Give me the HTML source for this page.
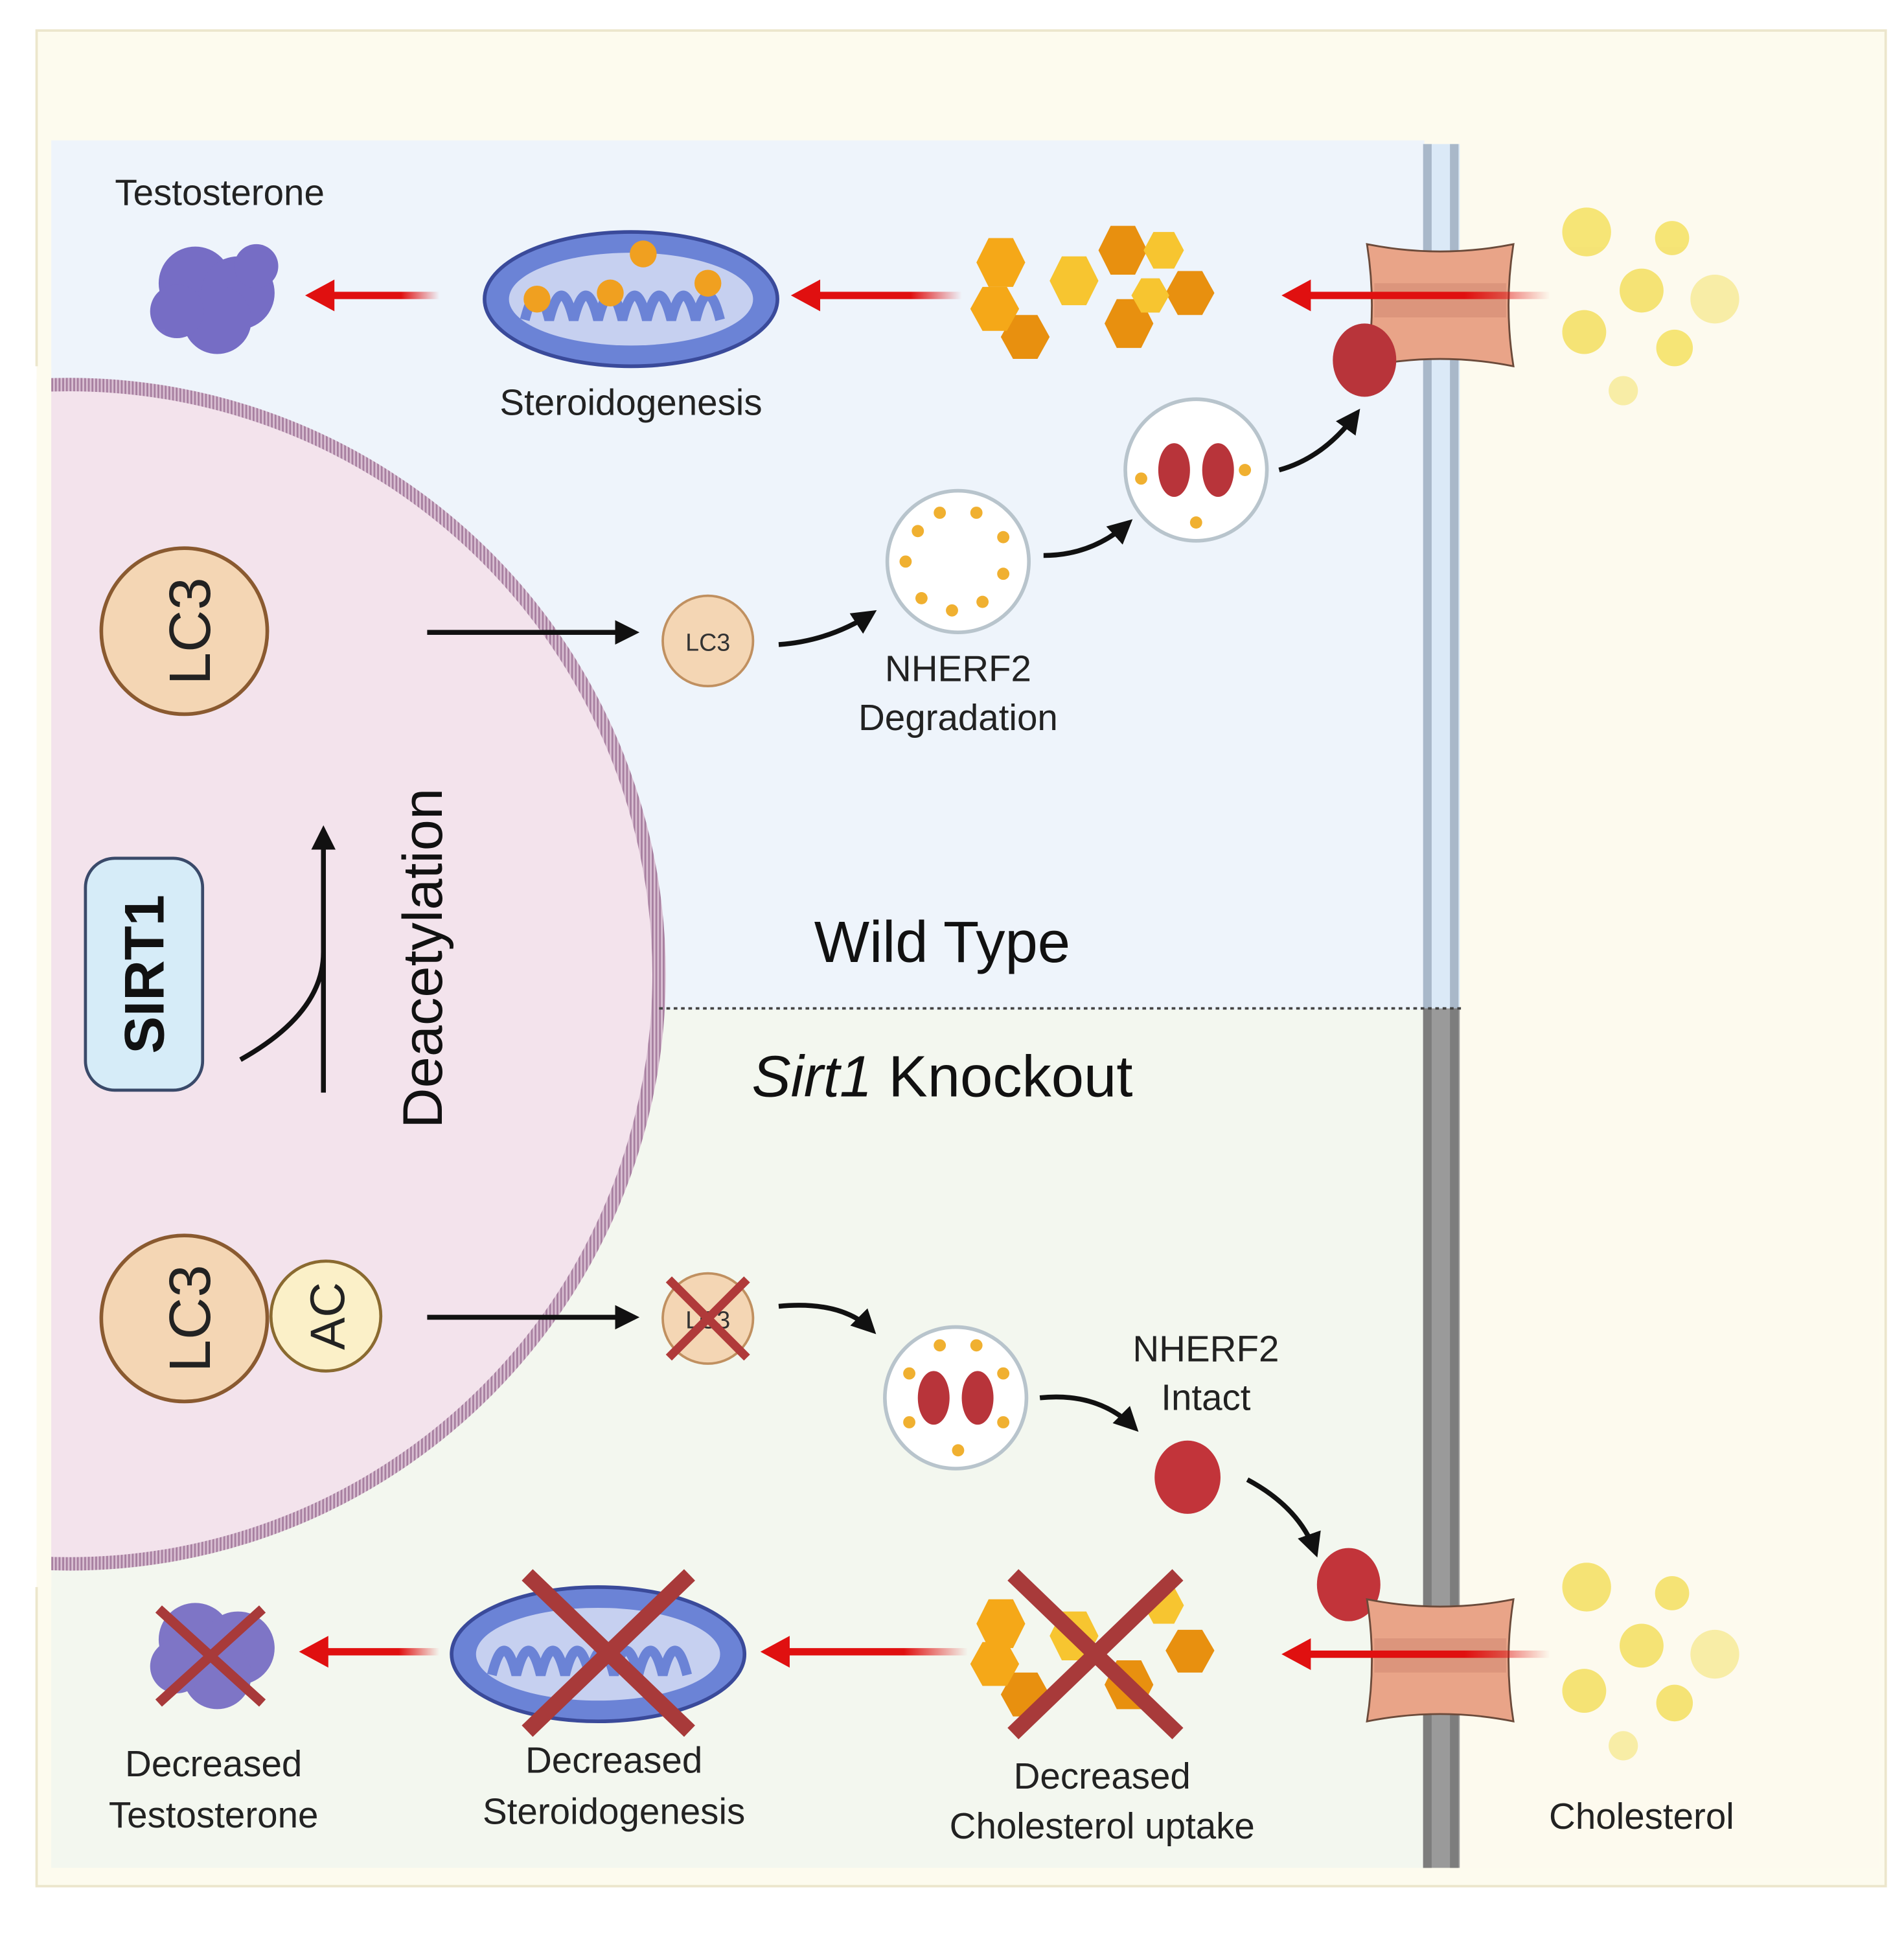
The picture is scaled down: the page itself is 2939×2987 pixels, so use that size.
<!DOCTYPE html>
<html><head><meta charset="utf-8"><style>html,body{margin:0;padding:0;background:#fff}svg{display:block}</style></head><body>
<svg width="2939" height="2987" viewBox="0 0 1560 1585" preserveAspectRatio="none" xmlns="http://www.w3.org/2000/svg" font-family="Liberation Sans, sans-serif">
<defs>
<marker id="ab" viewBox="0 0 10 10" refX="8" refY="5" markerWidth="5" markerHeight="5" orient="auto"><path d="M0,0L10,5L0,10z" fill="#111"/></marker>
<linearGradient id="rg" x1="0" x2="1" y1="0" y2="0"><stop offset="0" stop-color="#e01010"/><stop offset="0.65" stop-color="#e01010"/><stop offset="1" stop-color="#e01010" stop-opacity="0"/></linearGradient>
<pattern id="hatch" width="3" height="3" patternUnits="userSpaceOnUse"><rect width="3" height="3" fill="#d9bfd2"/><rect width="1.5" height="3" fill="#a77fa0"/></pattern>
</defs>
<rect width="1560" height="1585" fill="#fff"/>
<rect x="30" y="25" width="1515" height="1520" fill="#fdfbee" stroke="#ece6cc" stroke-width="2"/>
<rect x="42" y="115" width="1125" height="712" fill="#eef4fb"/>
<rect x="42" y="827" width="1125" height="703" fill="#f3f7ef"/>
<rect x="1195" y="115" width="345" height="1415" fill="#fdfaee"/>
<!-- nucleus -->
<circle cx="57" cy="798" r="483" fill="#f3e3ec" stroke="url(#hatch)" stroke-width="11"/>
<rect x="0" y="300" width="30" height="1000" fill="#fff"/>
<rect x="30" y="300" width="12" height="1000" fill="#fdfbee"/>
<!-- membrane -->
<rect x="1166" y="118" width="30" height="708" fill="#dbe9f7"/>
<rect x="1166" y="118" width="7" height="708" fill="#a9b8c9"/>
<rect x="1188" y="118" width="7" height="708" fill="#a9b8c9"/>
<rect x="1166" y="826" width="30" height="704" fill="#9a9a9a"/>
<rect x="1166" y="826" width="7" height="704" fill="#7d7d7d"/>
<rect x="1188" y="826" width="7" height="704" fill="#7d7d7d"/>
<line x1="540" y1="826" x2="1200" y2="826" stroke="#444" stroke-width="2" stroke-dasharray="3,3"/>
<!-- top row -->
<text x="180" y="168" font-size="30" text-anchor="middle" fill="#222">Testosterone</text>
<g fill="#6a5fc0" opacity="0.9"><circle cx="160" cy="232" r="30"/><circle cx="195" cy="240" r="30"/><circle cx="178" cy="262" r="28"/><circle cx="145" cy="255" r="22"/><circle cx="210" cy="218" r="18"/></g>
<rect x="270" y="239" width="90" height="6" fill="url(#rg)"/><polygon points="250,242 274,229 274,255" fill="#e01010"/>
<ellipse cx="517" cy="245" rx="120" ry="55" fill="#6b83d6" stroke="#3a4a9a" stroke-width="3"/>
<ellipse cx="517" cy="245" rx="100" ry="38" fill="#c6d0f0"/>
<path d="M430,262 q10,-40 20,0 q10,-40 20,0 q10,-40 20,0 q10,-40 20,0 q10,-40 20,0 q10,-40 20,0 q10,-40 20,0 q10,-40 20,0" fill="none" stroke="#6b83d6" stroke-width="8"/>
<g fill="#f0a020"><circle cx="440" cy="245" r="11"/><circle cx="500" cy="240" r="11"/><circle cx="527" cy="208" r="11"/><circle cx="580" cy="232" r="11"/></g>
<text x="517" y="340" font-size="30" text-anchor="middle" fill="#222">Steroidogenesis</text>
<rect x="668" y="239" width="120" height="6" fill="url(#rg)"/><polygon points="648,242 672,229 672,255" fill="#e01010"/>
<g fill="#f5a818"><polygon points="810,195 830,195 840,215 830,235 810,235 800,215"/><polygon points="870,210 890,210 900,230 890,250 870,250 860,230" fill="#f7c530"/><polygon points="910,185 930,185 940,205 930,225 910,225 900,205" fill="#e8900f"/><polygon points="945,190 962,190 970,205 962,220 945,220 937,205" fill="#f7c530"/><polygon points="965,222 985,222 995,240 985,258 965,258 955,240" fill="#e8900f"/><polygon points="915,245 935,245 945,265 935,285 915,285 905,265" fill="#e8900f"/><polygon points="830,258 850,258 860,276 850,294 830,294 820,276" fill="#e8900f"/><polygon points="805,235 825,235 835,253 825,271 805,271 795,253" fill="#f5a818"/><polygon points="935,228 950,228 958,242 950,256 935,256 927,242" fill="#f7c530"/></g>
<!-- transporter top -->
<path d="M1120,200 q60,12 120,0 q-8,50 0,100 q-60,-12 -120,0 q8,-50 0,-100z" fill="#e9a488" stroke="#6b4a3a" stroke-width="1.5"/>
<rect x="1126" y="232" width="108" height="28" fill="#d58f78" opacity="0.7"/>
<rect x="1070" y="239" width="200" height="6" fill="url(#rg)"/><polygon points="1050,242 1074,229 1074,255" fill="#e01010"/>
<ellipse cx="1118" cy="295" rx="26" ry="30" fill="#b8343a"/>
<g fill="#f4e060" opacity="0.85"><circle cx="1300" cy="190" r="20"/><circle cx="1370" cy="195" r="14"/><circle cx="1345" cy="238" r="18"/><circle cx="1405" cy="245" r="20" opacity="0.6"/><circle cx="1298" cy="272" r="18"/><circle cx="1372" cy="285" r="15"/><circle cx="1330" cy="320" r="12" opacity="0.6"/></g>
<!-- LC3 top -->
<circle cx="151" cy="517" r="68" fill="#f4d6b4" stroke="#8a5a30" stroke-width="3"/>
<text transform="translate(172,517) rotate(-90)" font-size="48" text-anchor="middle" fill="#222">LC3</text>
<line x1="350" y1="518" x2="520" y2="518" stroke="#111" stroke-width="4" marker-end="url(#ab)"/>
<circle cx="580" cy="525" r="37" fill="#f4d6b4" stroke="#c09060" stroke-width="2"/>
<text x="580" y="533" font-size="20" text-anchor="middle" fill="#333">LC3</text>
<path d="M638,528 Q680,525 715,502" fill="none" stroke="#111" stroke-width="4" marker-end="url(#ab)"/>
<circle cx="785" cy="460" r="58" fill="#fff" stroke="#b8c4cc" stroke-width="3"/>
<g fill="#f0b030"><circle cx="770" cy="420" r="5"/><circle cx="800" cy="420" r="5"/><circle cx="822" cy="440" r="5"/><circle cx="822" cy="470" r="5"/><circle cx="805" cy="493" r="5"/><circle cx="780" cy="500" r="5"/><circle cx="755" cy="490" r="5"/><circle cx="742" cy="460" r="5"/><circle cx="752" cy="435" r="5"/></g>
<text x="785" y="558" font-size="30" text-anchor="middle" fill="#222">NHERF2</text>
<text x="785" y="598" font-size="30" text-anchor="middle" fill="#222">Degradation</text>
<path d="M855,455 Q895,455 925,428" fill="none" stroke="#111" stroke-width="4" marker-end="url(#ab)"/>
<circle cx="980" cy="385" r="58" fill="#fff" stroke="#b8c4cc" stroke-width="3"/>
<ellipse cx="962" cy="385" rx="13" ry="22" fill="#b8343a"/><ellipse cx="998" cy="385" rx="13" ry="22" fill="#b8343a"/>
<g fill="#f0b030"><circle cx="980" cy="428" r="5"/><circle cx="1020" cy="385" r="5"/><circle cx="935" cy="392" r="5"/></g>
<path d="M1048,385 Q1085,375 1112,338" fill="none" stroke="#111" stroke-width="4" marker-end="url(#ab)"/>
<!-- SIRT1 -->
<rect x="70" y="703" width="96" height="190" rx="24" fill="#d6ecf8" stroke="#3a4a6a" stroke-width="2.5"/>
<text transform="translate(134,798) rotate(-90)" font-size="46" font-weight="bold" text-anchor="middle" fill="#111">SIRT1</text>
<path d="M197,868 Q265,830 265,780" fill="none" stroke="#111" stroke-width="4"/>
<line x1="265" y1="895" x2="265" y2="680" stroke="#111" stroke-width="4" marker-end="url(#ab)"/>
<text transform="translate(362,785) rotate(-90)" font-size="46" text-anchor="middle" fill="#111">Deacetylation</text>
<text x="772" y="788" font-size="48" text-anchor="middle" fill="#111">Wild Type</text>
<text x="772" y="898" font-size="48" text-anchor="middle" fill="#111"><tspan font-style="italic">Sirt1</tspan> Knockout</text>
<!-- bottom LC3 AC -->
<circle cx="151" cy="1080" r="68" fill="#f4d6b4" stroke="#8a5a30" stroke-width="3"/>
<text transform="translate(172,1080) rotate(-90)" font-size="48" text-anchor="middle" fill="#222">LC3</text>
<circle cx="267" cy="1078" r="45" fill="#fbf0c8" stroke="#8a6a30" stroke-width="2.5"/>
<text transform="translate(282,1078) rotate(-90)" font-size="40" text-anchor="middle" fill="#222">AC</text>
<line x1="350" y1="1079" x2="520" y2="1079" stroke="#111" stroke-width="4" marker-end="url(#ab)"/>
<circle cx="580" cy="1080" r="37" fill="#f4d6b4" stroke="#c09060" stroke-width="2"/>
<text x="580" y="1088" font-size="20" text-anchor="middle" fill="#333">LC3</text>
<path d="M548,1048 L612,1112 M612,1048 L548,1112" stroke="#b03a3a" stroke-width="7"/>
<path d="M638,1070 Q690,1065 715,1090" fill="none" stroke="#111" stroke-width="4" marker-end="url(#ab)"/>
<circle cx="783" cy="1145" r="58" fill="#fff" stroke="#b8c4cc" stroke-width="3"/>
<ellipse cx="765" cy="1145" rx="13" ry="22" fill="#b8343a"/><ellipse cx="801" cy="1145" rx="13" ry="22" fill="#b8343a"/>
<g fill="#f0b030"><circle cx="770" cy="1102" r="5"/><circle cx="800" cy="1102" r="5"/><circle cx="822" cy="1125" r="5"/><circle cx="822" cy="1165" r="5"/><circle cx="785" cy="1188" r="5"/><circle cx="745" cy="1165" r="5"/><circle cx="745" cy="1125" r="5"/></g>
<path d="M852,1145 Q900,1140 930,1170" fill="none" stroke="#111" stroke-width="4" marker-end="url(#ab)"/>
<text x="988" y="1115" font-size="30" text-anchor="middle" fill="#222">NHERF2</text>
<text x="988" y="1155" font-size="30" text-anchor="middle" fill="#222">Intact</text>
<ellipse cx="973" cy="1210" rx="27" ry="30" fill="#c2343a"/>
<path d="M1022,1212 Q1065,1235 1078,1272" fill="none" stroke="#111" stroke-width="4" marker-end="url(#ab)"/>
<ellipse cx="1105" cy="1298" rx="26" ry="30" fill="#c2343a"/>
<path d="M1120,1310 q60,12 120,0 q-8,50 0,100 q-60,-12 -120,0 q8,-50 0,-100z" fill="#e9a488" stroke="#6b4a3a" stroke-width="1.5"/>
<rect x="1126" y="1342" width="108" height="28" fill="#d58f78" opacity="0.7"/>
<rect x="1070" y="1352" width="200" height="6" fill="url(#rg)"/><polygon points="1050,1355 1074,1342 1074,1368" fill="#e01010"/>
<g fill="#f4e060" opacity="0.85"><circle cx="1300" cy="1300" r="20"/><circle cx="1370" cy="1305" r="14"/><circle cx="1345" cy="1348" r="18"/><circle cx="1405" cy="1355" r="20" opacity="0.6"/><circle cx="1298" cy="1385" r="18"/><circle cx="1372" cy="1395" r="15"/><circle cx="1330" cy="1430" r="12" opacity="0.6"/></g>
<text x="1345" y="1498" font-size="30" text-anchor="middle" fill="#222">Cholesterol</text>
<g fill="#f5a818"><polygon points="810,1310 830,1310 840,1330 830,1350 810,1350 800,1330"/><polygon points="870,1320 890,1320 900,1340 890,1360 870,1360 860,1340" fill="#f7c530"/><polygon points="945,1300 962,1300 970,1315 962,1330 945,1330 937,1315" fill="#f7c530"/><polygon points="965,1335 985,1335 995,1352 985,1370 965,1370 955,1352" fill="#e8900f"/><polygon points="915,1360 935,1360 945,1380 935,1400 915,1400 905,1380" fill="#e8900f"/><polygon points="830,1370 850,1370 860,1388 850,1406 830,1406 820,1388" fill="#e8900f"/><polygon points="805,1345 825,1345 835,1363 825,1381 805,1381 795,1363" fill="#f5a818"/></g>
<path d="M830,1290 L965,1420 M965,1290 L830,1420" stroke="#a83a3a" stroke-width="13"/>
<text x="903" y="1465" font-size="30" text-anchor="middle" fill="#222">Decreased</text>
<text x="903" y="1506" font-size="30" text-anchor="middle" fill="#222">Cholesterol uptake</text>
<rect x="643" y="1350" width="150" height="6" fill="url(#rg)"/><polygon points="623,1353 647,1340 647,1366" fill="#e01010"/>
<ellipse cx="490" cy="1355" rx="120" ry="55" fill="#6b83d6" stroke="#3a4a9a" stroke-width="3"/>
<ellipse cx="490" cy="1355" rx="100" ry="38" fill="#c6d0f0"/>
<path d="M403,1372 q10,-40 20,0 q10,-40 20,0 q10,-40 20,0 q10,-40 20,0 q10,-40 20,0 q10,-40 20,0 q10,-40 20,0 q10,-40 20,0" fill="none" stroke="#6b83d6" stroke-width="8"/>
<path d="M432,1290 L565,1418 M565,1290 L432,1418" stroke="#a83a3a" stroke-width="13"/>
<text x="503" y="1452" font-size="30" text-anchor="middle" fill="#222">Decreased</text>
<text x="503" y="1494" font-size="30" text-anchor="middle" fill="#222">Steroidogenesis</text>
<rect x="265" y="1350" width="95" height="6" fill="url(#rg)"/><polygon points="245,1353 269,1340 269,1366" fill="#e01010"/>
<g fill="#6a5fc0" opacity="0.85"><circle cx="160" cy="1343" r="30"/><circle cx="195" cy="1350" r="30"/><circle cx="178" cy="1372" r="28"/><circle cx="145" cy="1365" r="22"/></g>
<path d="M130,1318 L215,1395 M215,1318 L130,1395" stroke="#a83a3a" stroke-width="8"/>
<text x="175" y="1455" font-size="30" text-anchor="middle" fill="#222">Decreased</text>
<text x="175" y="1497" font-size="30" text-anchor="middle" fill="#222">Testosterone</text>
</svg>
</body></html>
